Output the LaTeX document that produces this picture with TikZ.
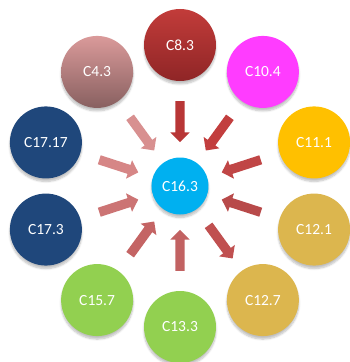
\documentclass[tikz,border=0pt]{standalone}
\usepackage{fontspec}
\setmainfont{Carlito}
\usetikzlibrary{shapes.arrows,shadows.blur}

\definecolor{winetop}{HTML}{C23C3A}
\definecolor{winebot}{HTML}{8F2526}
\definecolor{rosetop}{HTML}{DA9A9A}
\definecolor{rosebot}{HTML}{886060}
\definecolor{orchid}{HTML}{FF3CFF}
\definecolor{amber}{HTML}{FFC000}
\definecolor{mustard}{HTML}{DCB64E}
\definecolor{lime}{HTML}{92D050}
\definecolor{navy}{HTML}{1F477B}
\definecolor{sky}{HTML}{00B0F0}

\begin{document}
\begin{tikzpicture}[x=1pt,y=1pt,font=\fontsize{15.5}{18}\selectfont,
  bubble/.style={circle,minimum size=72pt,inner sep=0pt,text=white,
    blur shadow={shadow xshift=0pt,shadow yshift=-3pt,shadow blur steps=6,shadow opacity=25}},
  hub/.style={bubble,minimum size=57pt},
  flow/.style={single arrow,minimum height=41pt,single arrow head extend=5pt,
    inner xsep=0pt,inner ysep=4.5pt,sloped,allow upside down}]
\useasboundingbox (-180,-176) rectangle (170,186);

% centre and the ten outer circles
\node[hub,fill=sky] (c163) at (0,0) {C16.3};
\node[bubble,top color=winetop,bottom color=winebot] (c83) at (90:141) {C8.3};
\node[bubble,fill=orchid] (c104) at (54:141) {C10.4};
\node[bubble,fill=amber] (c111) at (18:141) {C11.1};
\node[bubble,fill=mustard] (c121) at (-18:141) {C12.1};
\node[bubble,fill=mustard] (c127) at (-54:141) {C12.7};
\node[bubble,fill=lime] (c133) at (-90:141) {C13.3};
\node[bubble,fill=lime] (c157) at (-126:141) {C15.7};
\node[bubble,fill=navy] (c173) at (-162:141) {C17.3};
\node[bubble,fill=navy] (c1717) at (162:141) {C17.17};
\node[bubble,top color=rosetop,bottom color=rosebot] (c43) at (126:141) {C4.3};

% block arrows
\foreach \src/\col in {c83/B83636,c104/C23E3E,c111/C04646,c121/B84A4A,
    c133/C26262,c157/C46464,c173/CC7474,c1717/D68686,c43/D89090}{
  \definecolor{arw}{HTML}{\col}
  \path (\src) -- node[flow,fill=arw] {} (c163);
}
\definecolor{arw}{HTML}{C05050}
\path (c163) -- node[flow,fill=arw] {} (c127);
\end{tikzpicture}
\end{document}
